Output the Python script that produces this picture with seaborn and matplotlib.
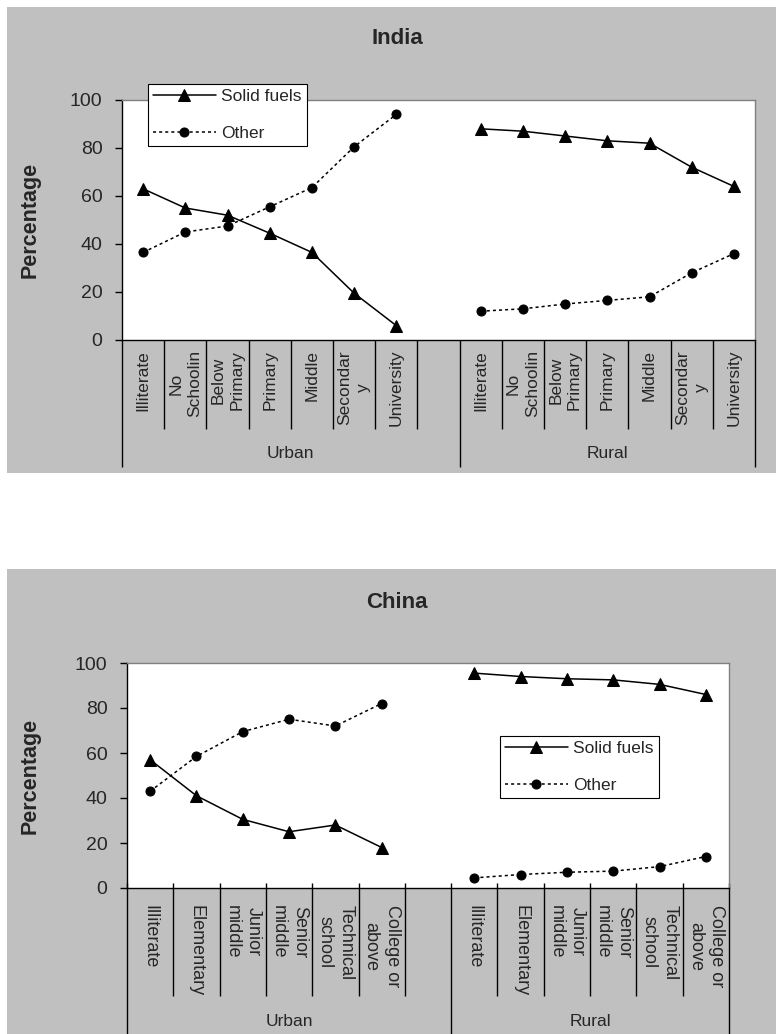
import matplotlib
matplotlib.use("Agg")
import matplotlib.pyplot as plt
import matplotlib.transforms as mtransforms
from matplotlib.patches import Rectangle
import pandas as pd
import seaborn as sns

# ---- data ----
groups = ["Urban", "Rural"]
series = ["Solid fuels", "Other"]

india_categories = ["Illiterate", "No\nSchoolin", "Below\nPrimary", "Primary",
                    "Middle", "Secondar\ny", "University"]
india_urban_solid = [63, 55, 52, 44.5, 36.5, 19.5, 6]
india_urban_other = [36.5, 45, 47.5, 55.5, 63.5, 80.5, 94]
india_rural_solid = [88, 87, 85, 83, 82, 72, 64]
india_rural_other = [12, 13, 15, 16.5, 18, 28, 36]

china_categories = ["Illiterate", "Elementary", "Junior\nmiddle", "Senior\nmiddle",
                    "Technical\nschool", "College or\nabove"]
china_urban_solid = [57, 41, 30.5, 25, 28, 18]
china_urban_other = [43, 58.5, 69.5, 75, 72, 82]
china_rural_solid = [95.5, 94, 93, 92.5, 90.5, 86]
china_rural_other = [4.5, 6, 7, 7.5, 9.5, 14]

yticks = [0, 20, 40, 60, 80, 100]

sns.set_style("white")
plt.rcParams["font.family"] = ["Liberation Sans", "DejaVu Sans"]

W, H = 776, 1034
fig = plt.figure(figsize=(W / 100, H / 100), dpi=100)


def fx(px):
    return px / W


def fy(py):
    return 1 - py / H


# grey chart-area panels
for top, bottom in [(7, 473), (569, 1034)]:
    fig.patches.append(Rectangle((fx(7), fy(bottom)), fx(776) - fx(7), fy(top) - fy(bottom),
                                 transform=fig.transFigure, facecolor="#c0c0c0",
                                 edgecolor="none", zorder=-1))

styles = {
    "Solid fuels": dict(marker="^", linestyle="-", markersize=8),
    "Other": dict(marker="o", linestyle=(0, (2, 2)), markersize=6.5),
}


def long_table(categories, vals):
    n = len(categories)
    rows = []
    for g, off in zip(groups, [0, n + 1]):
        for s in series:
            for i, (c, v) in enumerate(zip(categories, vals[(g, s)])):
                rows.append(dict(group=g, series=s, category=c, slot=off + i + 0.5, value=v))
    return pd.DataFrame(rows)


def draw_panel(box, title, title_y, categories, vals, rot, lab_pad, lab_size,
               cat_len, grp_len, grp_y, leg_xy, ylab_x, tick_up=0):
    l, t, r, b = box
    ax = fig.add_axes([fx(l), fy(b), fx(r) - fx(l), fy(t) - fy(b)])
    ax.set_facecolor("white")
    n = len(categories)
    nslots = 2 * n + 1
    df = long_table(categories, vals)

    for g in groups:
        for s in series:
            d = df[(df.group == g) & (df.series == s)]
            sns.lineplot(data=d, x="slot", y="value", ax=ax, color="black", lw=1.1,
                         markeredgecolor="black", markerfacecolor="black",
                         label=s if g == "Urban" else None, legend=False, **styles[s])

    ax.set_xlim(0, nslots)
    ax.set_ylim(0, 100)
    ax.set_yticks(yticks)
    ax.set_xticks([0, n + 1, nslots])
    ax.set_xticks(range(nslots + 1), minor=True)
    ax.set_xticklabels([])
    ax.set_xlabel("")
    ax.tick_params(axis="x", which="major", bottom=True, length=grp_len * 0.72,
                   width=1, color="black", direction="out")
    ax.tick_params(axis="x", which="minor", bottom=True, length=cat_len * 0.72,
                   width=1, color="black", direction="out")
    ax.tick_params(axis="y", left=True, length=5, width=1, color="black",
                   direction="out", pad=9, labelsize=14)
    for side in ["left", "bottom"]:
        ax.spines[side].set_color("black")
        ax.spines[side].set_linewidth(1)
    for side in ["top", "right"]:
        ax.spines[side].set_color("#808080")
        ax.spines[side].set_linewidth(1)

    ax.set_ylabel("Percentage", fontsize=15.5, fontweight="bold")
    ax.yaxis.set_label_coords(ylab_x, 0.5)

    trans = mtransforms.blended_transform_factory(ax.transData, ax.transAxes)
    hpx = b - t
    if tick_up:
        ax.vlines(range(nslots + 1), 0, tick_up / hpx, transform=trans,
                  colors="black", lw=1, clip_on=False)
    for _, row in df[df.series == series[0]].iterrows():
        ax.text(row.slot, -lab_pad / hpx, row.category, transform=trans, rotation=rot,
                ha="center", va="top", multialignment="center", fontsize=lab_size,
                linespacing=1.3)
    for g, off in zip(groups, [0, n + 1]):
        end = n + 1 if g == "Urban" else nslots
        ax.text((off + end) / 2, -grp_y / hpx, g, transform=trans, ha="center",
                va="center", fontsize=12.5)

    handles, labels = ax.get_legend_handles_labels()
    leg = ax.legend(handles, labels, loc="upper left", bbox_to_anchor=(fx(leg_xy[0]), fy(leg_xy[1])),
                    bbox_transform=fig.transFigure, frameon=True, fancybox=False,
                    edgecolor="black", framealpha=1, fontsize=12.5, handlelength=3.6,
                    handletextpad=0.3, labelspacing=1.25, borderpad=0.3, borderaxespad=0)
    leg.get_frame().set_linewidth(0.8)

    fig.text(fx(397), fy(title_y), title, ha="center", va="center",
             fontsize=16, fontweight="bold")
    return ax


india_vals = {("Urban", "Solid fuels"): india_urban_solid, ("Urban", "Other"): india_urban_other,
              ("Rural", "Solid fuels"): india_rural_solid, ("Rural", "Other"): india_rural_other}
china_vals = {("Urban", "Solid fuels"): china_urban_solid, ("Urban", "Other"): china_urban_other,
              ("Rural", "Solid fuels"): china_rural_solid, ("Rural", "Other"): china_rural_other}

draw_panel((122, 100, 755, 340), "India", 39, india_categories, india_vals, 90, 10, 12.5,
           89, 127, 114, (148, 84), (41 - 122) / 633)
draw_panel((127, 663, 729, 888), "China", 602, china_categories, china_vals, 270, 17, 13,
           108, 146, 134, (500, 736), (41 - 127) / 602, tick_up=5)

fig.savefig("out.png", dpi=100)
